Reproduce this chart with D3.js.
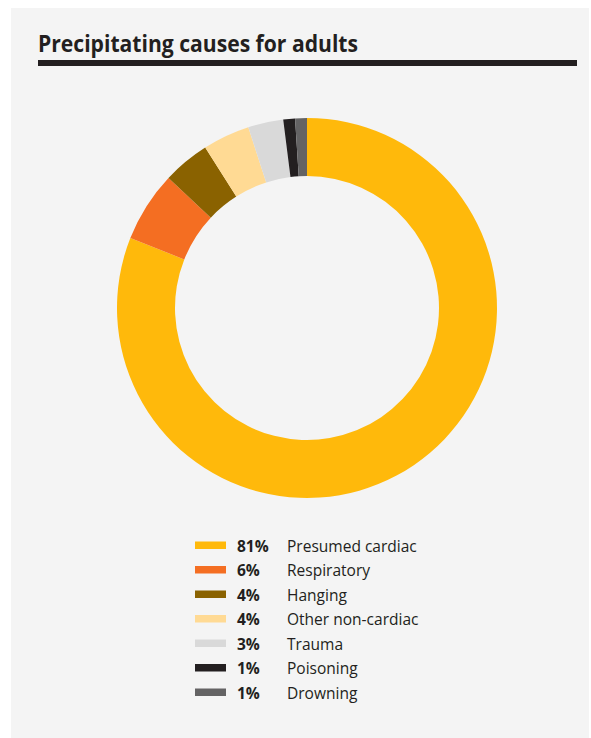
<!DOCTYPE html>
<html>
<head>
<meta charset="utf-8">
<script src="https://cdn.jsdelivr.net/npm/d3@7"></script>
<style>
  html, body { margin: 0; padding: 0; background: #ffffff; }
  svg { display: block; }
</style>
</head>
<body>
<svg id="chart" width="591" height="738"></svg>
<script>
// Precipitating causes for adults (share of cases, %)
const categories = ["Presumed cardiac", "Respiratory", "Hanging", "Other non-cardiac", "Trauma", "Poisoning", "Drowning"];
const shares = [81, 6, 4, 4, 3, 1, 1];
const colours = ["#ffb90b", "#f46e22", "#8a6200", "#ffda94", "#d9d9d9", "#231f20", "#646364"];
const title = "Precipitating causes for adults";

const svg = d3.select("#chart");
const W = 591, H = 738;

// panel background
svg.append("rect")
  .attr("x", 11).attr("y", 8)
  .attr("width", 578).attr("height", H - 8)
  .attr("fill", "#f4f4f4");

// title and rule
svg.append("text")
  .attr("x", 38).attr("y", 52)
  .attr("font-family", "'Open Sans', sans-serif")
  .attr("font-weight", 700)
  .attr("font-size", 22.5)
  .attr("fill", "#231f20")
  .attr("textLength", 320)
  .attr("lengthAdjust", "spacingAndGlyphs")
  .text(title);

svg.append("rect")
  .attr("x", 38).attr("y", 60)
  .attr("width", 539).attr("height", 6)
  .attr("fill", "#231f20");

// donut
const data = categories.map((c, i) => ({ name: c, value: shares[i], colour: colours[i] }));
const pie = d3.pie().value(d => d.value).sort(null);
const arc = d3.arc().innerRadius(132).outerRadius(190);

const g = svg.append("g").attr("transform", "translate(307,308)");
g.selectAll("path")
  .data(pie(data))
  .join("path")
  .attr("d", arc)
  .attr("fill", d => d.data.colour);

// legend
const rowY = d3.scaleBand()
  .domain(categories)
  .range([537, 537 + 24.5 * categories.length]);

const legend = svg.append("g");
const rows = legend.selectAll("g")
  .data(data)
  .join("g")
  .attr("transform", d => `translate(0,${rowY(d.name)})`);

rows.append("rect")
  .attr("x", 195).attr("y", 4.5)
  .attr("width", 31).attr("height", 7.5)
  .attr("fill", d => d.colour);

rows.append("text")
  .attr("x", 237).attr("y", 14.6)
  .attr("font-family", "'Open Sans', sans-serif")
  .attr("font-weight", 700)
  .attr("font-size", 16)
  .attr("fill", "#231f20")
  .text(d => d.value + "%")
  .each(function () {
    const len = this.getComputedTextLength();
    d3.select(this).attr("textLength", len * 0.97).attr("lengthAdjust", "spacingAndGlyphs");
  });

rows.append("text")
  .attr("x", 287).attr("y", 14.6)
  .attr("font-family", "'Open Sans', sans-serif")
  .attr("font-size", 16)
  .attr("fill", "#231f20")
  .text(d => d.name)
  .each(function () {
    const len = this.getComputedTextLength();
    d3.select(this).attr("textLength", len * 0.97).attr("lengthAdjust", "spacingAndGlyphs");
  });
</script>
</body>
</html>
